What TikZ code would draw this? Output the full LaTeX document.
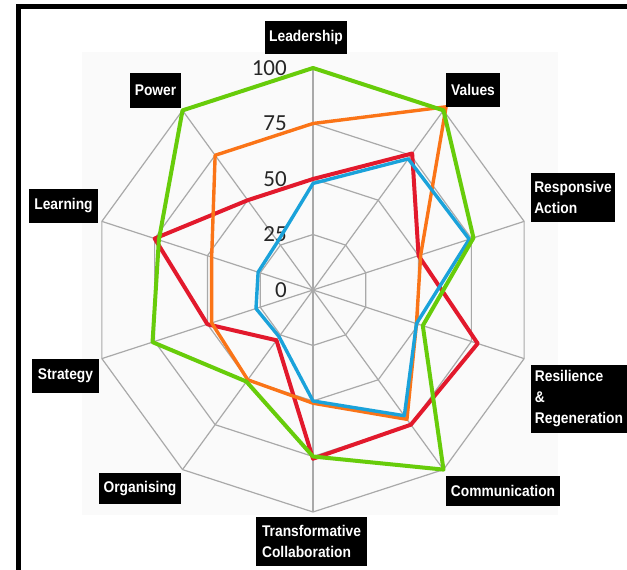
\documentclass[tikz,border=0pt]{standalone}
\usepackage{fontspec}
\setmainfont{Carlito}
\newfontfamily\labfont{Liberation Sans}[FakeStretch=0.89]
\usetikzlibrary{calc}
\definecolor{gridgray}{HTML}{A9A9A9}
\definecolor{panel}{HTML}{FAFAFA}
\definecolor{serRed}{HTML}{E2192C}
\definecolor{serOrange}{HTML}{FA7417}
\definecolor{serGreen}{HTML}{67CC0A}
\definecolor{serBlue}{HTML}{1AA2DA}

% one closed data polygon: coordinate prefix, line style, ten values (0--100)
\newcommand\drawseries[3]{%
  \foreach \v [count=\i from 0] in {#3} {
    \coordinate (#1\i) at ($(ctr)+({90-36*\i}:{\v*2.22})$);
  }
  \draw[#2] (#10) \foreach \j in {1,...,9} { -- (#1\j) } -- cycle;
}

\begin{document}
\begin{tikzpicture}[x=1pt,y=1pt,
  grid/.style={draw=gridgray,line width=1.2pt},
  axislabel/.style={fill=black,text=white,align=left,inner sep=0pt,
    font=\labfont\bfseries\fontsize{15.5}{21}\selectfont},
  scalelabel/.style={anchor=east,inner sep=0pt,text=black!85,
    font=\fontsize{23}{23}\selectfont},
  series/.style={line width=#1,line join=round,line cap=round},
]
\useasboundingbox (0,0) rectangle (627,570);
\fill[white] (0,0) rectangle (627,570);

% frame
\fill[black] (16,560.5) rectangle (627,566);
\fill[black] (16,0) rectangle (21,566);

% chart panel
\fill[panel] (82,55) rectangle (558,518);

\coordinate (ctr) at (313,280);

% rings and spokes
\foreach \k in {1,2,3,4} {
  \foreach \i in {0,...,9} {
    \coordinate (ring\k-\i) at ($(ctr)+({90-36*\i}:{\k*55.5})$);
  }
  \draw[grid] (ring\k-0) \foreach \j in {1,...,9} { -- (ring\k-\j) } -- cycle;
}
\foreach \i in {0,...,9} {
  \draw[grid] (ctr) -- (ring4-\i);
}

% scale numbers
\node[scalelabel] (s0) at (287,280) {0};
\node[scalelabel] (s1) at (287,335.5) {25};
\node[scalelabel] (s2) at (287,391) {50};
\node[scalelabel] (s3) at (287,446.5) {75};
\node[scalelabel] (s4) at (287,502) {100};

% data
\drawseries{r}{series=4pt,draw=serRed}{50,76,50,78,75,76,28,50,75,50}
\drawseries{o}{series=3.4pt,draw=serOrange}{75,102,51,49,72,51,50,48,48,75}
\drawseries{b}{series=3.4pt,draw=serBlue}{48,73,74,49,70,50,26,27,26,27}
\drawseries{g}{series=4pt,draw=serGreen}{100,100,76,52,100,75,51,76,73,100}

% axis captions
\node[axislabel,minimum width=82,minimum height=33] (lead) at (306,532.5) {Leadership};
\node[axislabel,minimum width=54,minimum height=34] (vals) at (473,480) {Values};
\node[axislabel,minimum width=84,minimum height=49] (resp) at (573,372.5) {Responsive\\Action};
\node[axislabel,minimum width=96,minimum height=68] (resi) at (579,171) {Resilience\\\&\\Regeneration};
\node[axislabel,minimum width=114,minimum height=30] (comm) at (503,79) {Communication};
\node[axislabel,minimum width=111,minimum height=49] (trans) at (311.5,28.5) {Transformative\\Collaboration};
\node[axislabel,minimum width=82,minimum height=31] (org) at (140,81.5) {Organising};
\node[axislabel,minimum width=67,minimum height=34] (strat) at (65.5,194) {Strategy};
\node[axislabel,minimum width=69,minimum height=34] (learn) at (63.5,364) {Learning};
\node[axislabel,minimum width=51,minimum height=35] (pow) at (155.5,479.5) {Power};
\end{tikzpicture}
\end{document}
